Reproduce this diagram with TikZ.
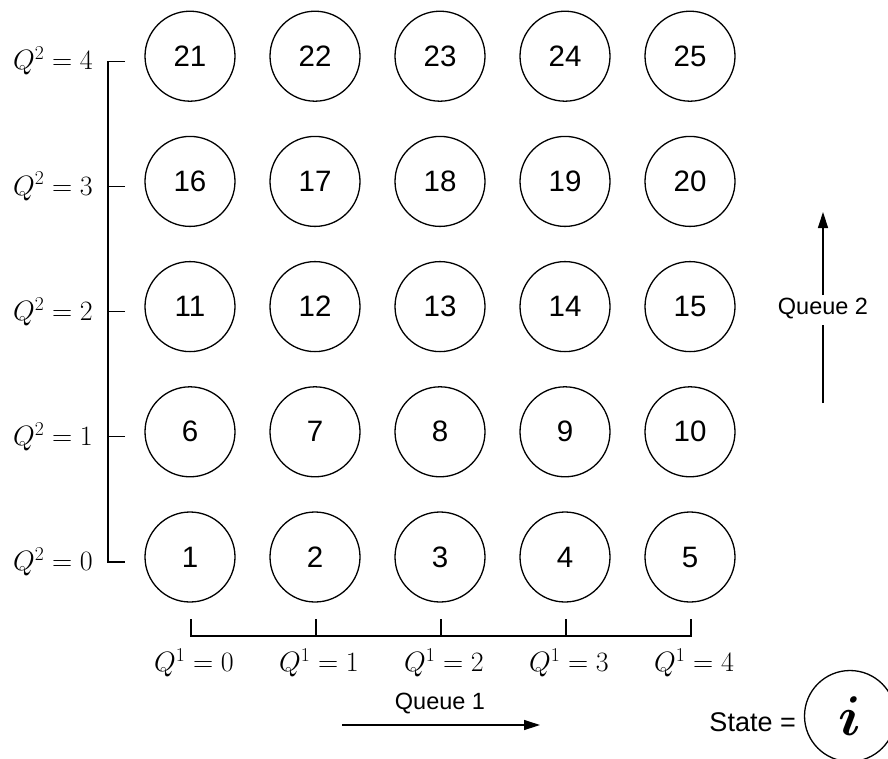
\RequirePackage{fix-cm}
\documentclass[tikz,border=0pt]{standalone}
\usepackage{bm}
\usepackage{fontspec}
\setmainfont{Liberation Sans}
\usetikzlibrary{arrows.meta}
\begin{document}
\begin{tikzpicture}[x=1pt,y=-1pt,
  statenode/.style={draw,circle,minimum size=90pt,inner sep=0pt,line width=1.3pt,font=\fontsize{29.5}{34}\selectfont},
  legendnode/.style={draw,circle,minimum size=91pt,inner sep=0pt,line width=1.3pt,font=\fontsize{56}{64}\selectfont},
  axisline/.style={line width=1.3pt},
  mathlbl/.style={font=\fontsize{28}{32}\selectfont,inner sep=0pt},
  qlbl/.style={font=\fontsize{23.5}{28}\selectfont},
  arr/.style={line width=1.3pt,-{Triangle[length=16pt,width=10pt]}}]
\useasboundingbox (0,0) rectangle (888,758);
% states
\foreach \r in {0,...,4}{
  \foreach \c in {0,...,4}{
    \pgfmathtruncatemacro\n{\r*5+\c+1}
    \node[statenode] (c\n) at ({190+\c*125},{557-\r*125.2}) {\n};
  }
}
% left bracket
\foreach \r in {0,...,4}{
  \pgfmathsetmacro\yy{562-\r*125.2}
  \coordinate (l\r) at (125,\yy);
  \coordinate (lb\r) at (108,\yy);
  \node[mathlbl,anchor=east] (ql\r) at (93,\yy) {$Q^2 = \r$};
}
\draw[axisline] (l4) -- (lb4) -- (lb0) -- (l0);
\foreach \r in {1,2,3}{ \draw[axisline] (l\r) -- (lb\r); }
% bottom bracket
\foreach \c in {0,...,4}{
  \coordinate (b\c) at ({191+\c*125},619);
  \coordinate (bb\c) at ({191+\c*125},636);
  \node[mathlbl] (qb\c) at ({194+\c*125},663) {$Q^1 = \c$};
}
\draw[axisline] (b0) -- (bb0) -- (bb4) -- (b4);
\foreach \c in {1,2,3}{ \draw[axisline] (b\c) -- (bb\c); }
% queue 1
\node[qlbl] (q1) at (440,704) {Queue 1};
\coordinate (q1s) at (342,725);
\coordinate (q1e) at (540,725);
\draw[arr] (q1s) -- (q1e);
% queue 2
\node[qlbl] (q2) at (823,309) {Queue 2};
\coordinate (q2s) at (823,403);
\coordinate (q2a) at (823,325);
\coordinate (q2b) at (823,295);
\coordinate (q2e) at (823,212);
\draw[axisline] (q2s) -- (q2a);
\draw[arr] (q2b) -- (q2e);
% legend
\node[legendnode] (st) at (850,716) {$\bm{i}$};
\node[font=\fontsize{27}{32}\selectfont,anchor=east,inner sep=0pt] (stl) at (796,722) {State =};
\end{tikzpicture}
\end{document}
